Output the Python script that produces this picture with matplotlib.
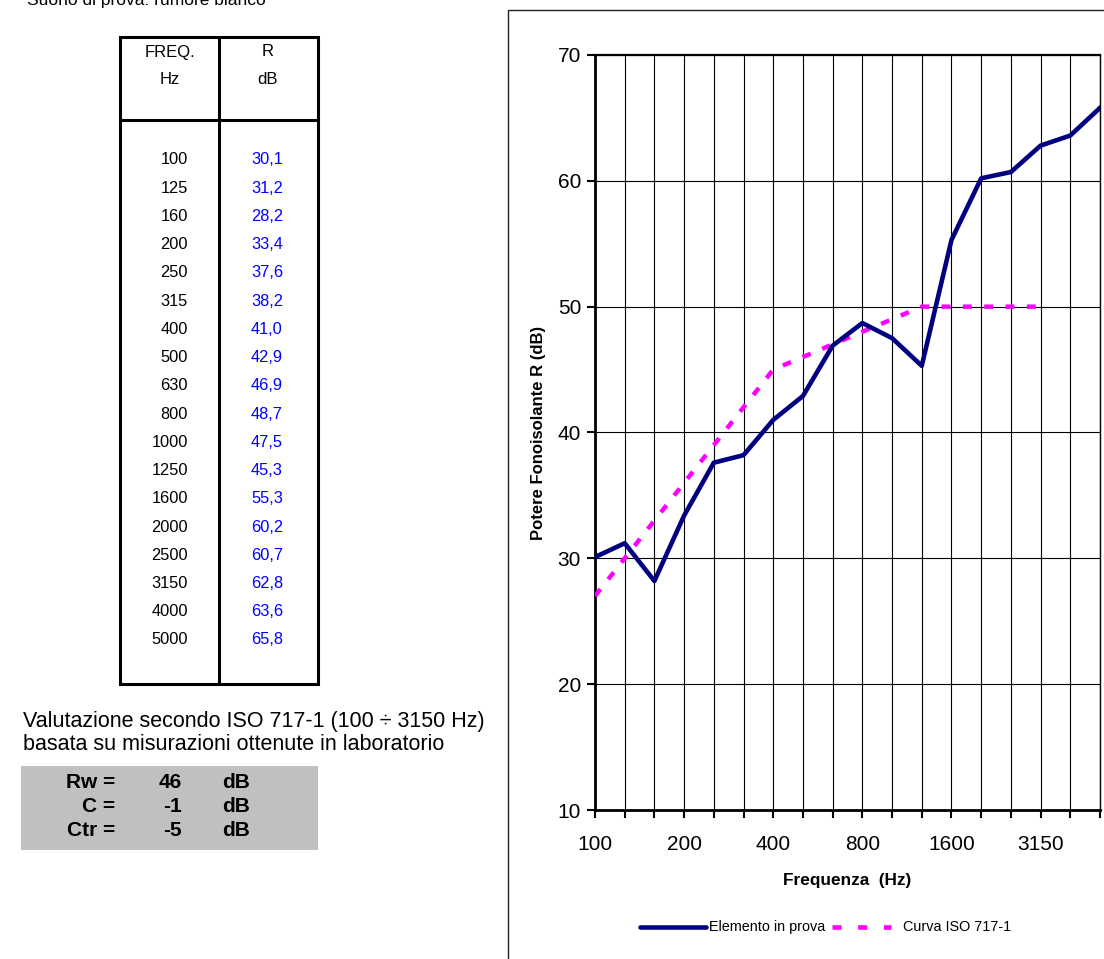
import matplotlib
matplotlib.use("Agg")
import matplotlib.pyplot as plt
from matplotlib.patches import Rectangle

plt.rcParams['font.family'] = ['Liberation Sans', 'DejaVu Sans']

# ==== dati ====
freq_labels = ['100', '125', '160', '200', '250', '315', '400', '500', '630',
               '800', '1000', '1250', '1600', '2000', '2500', '3150', '4000', '5000']
r_values = [30.1, 31.2, 28.2, 33.4, 37.6, 38.2, 41.0, 42.9, 46.9,
            48.7, 47.5, 45.3, 55.3, 60.2, 60.7, 62.8, 63.6, 65.8]
# curva di riferimento ISO 717-1 traslata (100 - 3150 Hz)
iso_curve = [27, 30, 33, 36, 39, 42, 45, 46, 47, 48, 49, 50, 50, 50, 50, 50]
x_ticklabels = ['100', '200', '400', '800', '1600', '3150']
rating_names = ['Rw =', 'C =', 'Ctr =']
rating_values = ['46', '-1', '-5']

NAVY = '#000080'
MAGENTA = '#FF00FF'

W, H = 1104, 959
fig = plt.figure(figsize=(W / 100, H / 100), dpi=100)

# overlay in pixel coordinates for the table and texts
ov = fig.add_axes([0, 0, 1, 1])
ov.set_xlim(0, W)
ov.set_ylim(H, 0)
ov.axis('off')

ov.text(27, 5, 'Suono di prova: rumore bianco', fontsize=12.5, ha='left', va='baseline')

# ==== tabella ====
tl, tm, tr = 120, 219, 318
tt, th, tb = 37, 120, 684
ov.add_patch(Rectangle((tl, tt), tr - tl, tb - tt, fill=False, lw=2.2, ec='black'))
ov.plot([tm, tm], [tt, tb], color='black', lw=2.2)
ov.plot([tl, tr], [th, th], color='black', lw=2.2)
ov.text(170, 52, 'FREQ.', fontsize=12, ha='center', va='center')
ov.text(170, 79, 'Hz', fontsize=12, ha='center', va='center')
ov.text(268, 52, 'R', fontsize=12, ha='center', va='center')
ov.text(268, 79, 'dB', fontsize=12, ha='center', va='center')
row0, dy = 160, (640 - 160) / 17
for i, (f, r) in enumerate(zip(freq_labels, r_values)):
    y = row0 + i * dy
    ov.text(188, y, f, fontsize=11.8, ha='right', va='center')
    ov.text(251, y, f'{r:.1f}'.replace('.', ','), fontsize=11.8, ha='left',
            va='center', color='#0000FF')

# ==== valutazione ====
ov.text(23, 721, 'Valutazione secondo ISO 717-1 (100 \u00f7 3150 Hz)',
        fontsize=15.5, ha='left', va='center')
ov.text(23, 744, 'basata su misurazioni ottenute in laboratorio',
        fontsize=15.5, ha='left', va='center')
ov.add_patch(Rectangle((21, 766), 297, 84, fc='#C0C0C0', ec='none'))
for i, (n, v) in enumerate(zip(rating_names, rating_values)):
    y = 782 + i * 24
    ov.text(115, y, n, fontsize=15, weight='bold', ha='right', va='center')
    ov.text(182, y, v, fontsize=15, weight='bold', ha='right', va='center')
    ov.text(222, y, 'dB', fontsize=15, weight='bold', ha='left', va='center')

# bordo del grafico
ov.add_patch(Rectangle((508, 10), 700, 1000, fill=False, lw=1.0, ec='#222222'))

# legenda (disegnata a mano come in Excel)
ov.plot([640, 706], [927, 927], color=NAVY, lw=3.3, solid_capstyle='round')
ov.text(709, 927, 'Elemento in prova', fontsize=10.4, ha='left', va='center')
ov.plot([832, 891], [927, 927], color=MAGENTA, lw=3.3, linestyle=(0, (2.0, 3.6)),
        dash_capstyle='butt')
ov.text(903, 927, 'Curva ISO 717-1', fontsize=10.4, ha='left', va='center')

# ==== grafico ====
left, right, top, bottom = 595, 1100, 55, 810
ax = fig.add_axes([left / W, 1 - bottom / H, (right - left) / W, (bottom - top) / H])
xs = list(range(len(freq_labels)))
ax.plot(xs[:len(iso_curve)], iso_curve, color=MAGENTA, lw=3.2,
        linestyle=(0, (2.0, 2.8)), dash_capstyle='butt', zorder=3)
ax.plot(xs, r_values, color=NAVY, lw=3.3, zorder=4)
ax.set_xlim(0, len(freq_labels) - 1)
ax.set_ylim(10, 70)
ax.set_yticks(range(10, 71, 10))
ax.set_xticks(xs, minor=True)
ax.set_xticks([freq_labels.index(t) for t in x_ticklabels])
ax.set_xticklabels(x_ticklabels)
ax.tick_params(axis='both', which='both', direction='out', length=6, width=1.5,
               labelsize=15, color='black')
ax.tick_params(axis='x', pad=12)
ax.tick_params(axis='y', pad=4)
ax.grid(True, which='both', axis='x', color='black', lw=0.8)
ax.grid(True, which='major', axis='y', color='black', lw=0.8)
ax.set_axisbelow(True)
for s in ['left', 'bottom']:
    ax.spines[s].set_linewidth(2.0)
ax.spines['top'].set_linewidth(1.6)
ax.spines['right'].set_linewidth(1.0)
ax.set_ylabel('Potere Fonoisolante R (dB)', fontsize=12, weight='bold')
ax.yaxis.set_label_coords((538 - left) / (right - left), 0.5)
ax.set_xlabel('Frequenza  (Hz)', fontsize=12.4, weight='bold')
ax.xaxis.set_label_coords(0.5, -(880 - bottom) / (bottom - top))
ax.xaxis.label.set_va('center')
ax.yaxis.label.set_va('center')

fig.savefig('out.png', dpi=100)
